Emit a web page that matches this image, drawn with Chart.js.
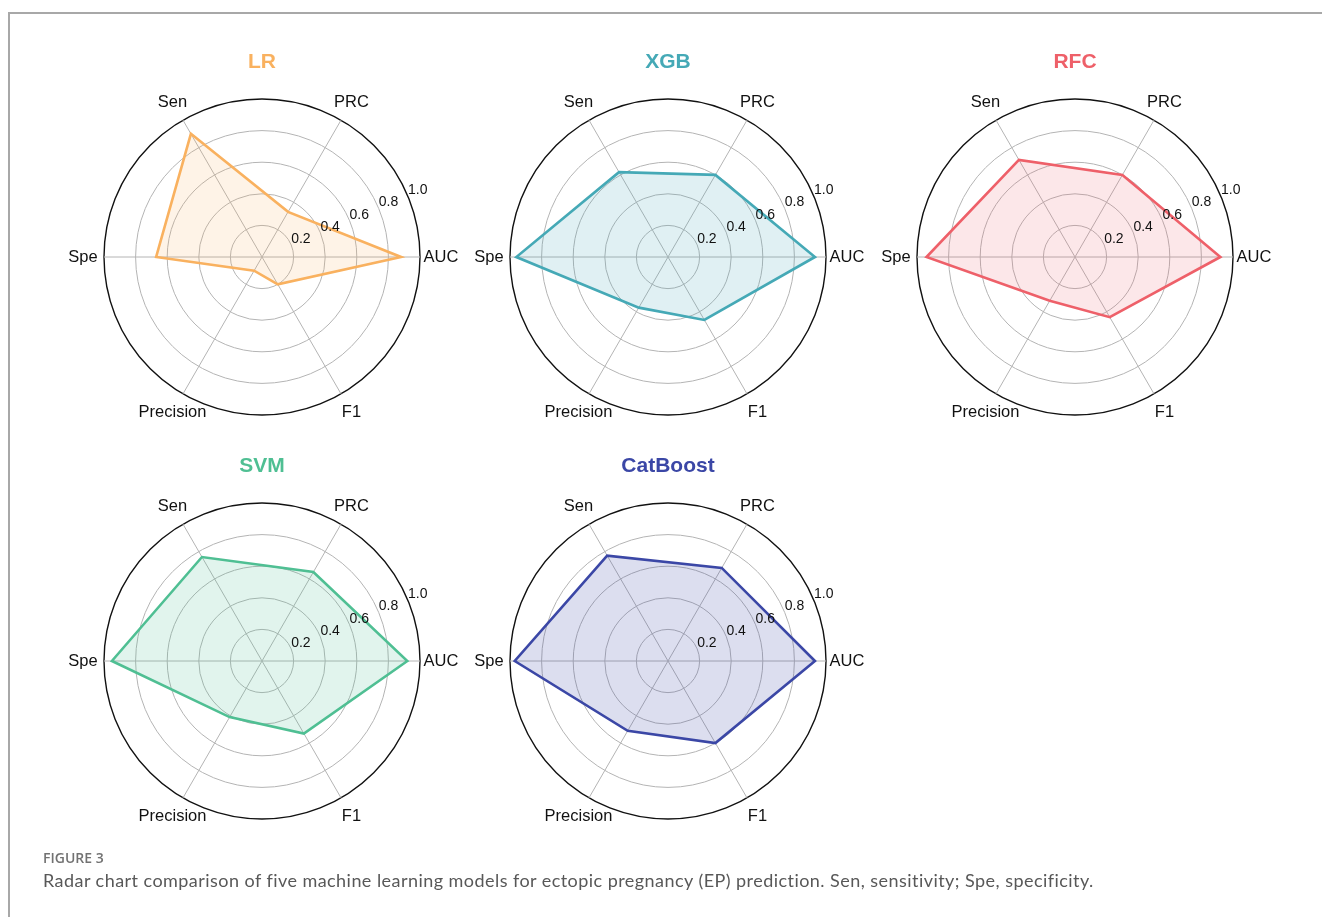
<!DOCTYPE html>
<html>
<head>
<meta charset="utf-8">
<script src="https://cdn.jsdelivr.net/npm/chart.js@4.4.1/dist/chart.umd.min.js"></script>
<style>
  body { margin: 0; background: #fff; width: 1322px; height: 917px; overflow: hidden; position: relative; }
  .frame { position: absolute; left: 8px; top: 12px; right: 0; bottom: 0; border-top: 2px solid #a8a8a8; border-left: 2px solid #a8a8a8; }
  canvas.radar { position: absolute; }
  .fig-no { position: absolute; left: 43px; top: 848px; font: 600 14px "Open Sans", sans-serif; line-height: normal; color: #727272; }
  .caption { position: absolute; left: 43px; top: 870px; font: 18px Lato, sans-serif; line-height: 1.2; letter-spacing: 0.45px; color: #585858; white-space: nowrap; }
</style>
</head>
<body>
<div class="frame"></div>
<canvas id="c-lr" class="radar" width="440" height="440" style="left:42px;top:37px"></canvas>
<canvas id="c-xgb" class="radar" width="440" height="440" style="left:448px;top:37px"></canvas>
<canvas id="c-rfc" class="radar" width="440" height="440" style="left:855px;top:37px"></canvas>
<canvas id="c-svm" class="radar" width="440" height="440" style="left:42px;top:441px"></canvas>
<canvas id="c-cat" class="radar" width="440" height="440" style="left:448px;top:441px"></canvas>
<div class="fig-no">FIGURE 3</div>
<div class="caption">Radar chart comparison of five machine learning models for ectopic pregnancy (EP) prediction. Sen, sensitivity; Spe, specificity.</div>

<script>
// metric order runs clockwise from the right-hand axis
const metrics = ['AUC', 'F1', 'Precision', 'Spe', 'Sen', 'PRC'];
const tickValues = [0.2, 0.4, 0.6, 0.8, 1.0];

const lrScores  = [0.88, 0.20, 0.10, 0.67, 0.90, 0.33];
const xgbScores = [0.93, 0.46, 0.37, 0.96, 0.62, 0.60];
const rfcScores = [0.92, 0.44, 0.32, 0.94, 0.71, 0.60];
const svmScores = [0.92, 0.53, 0.41, 0.95, 0.76, 0.65];
const catScores = [0.93, 0.60, 0.51, 0.97, 0.77, 0.68];

const FONT = '"Liberation Sans", Arial, sans-serif';

// axis names, radial tick values and the model title are drawn by hand
const radarText = {
    id: 'radarText',
    afterDraw(chart, args, opts) {
        const s = chart.scales.r;
        const ctx = chart.ctx;
        ctx.save();

        ctx.fillStyle = '#111';
        ctx.font = '16.5px ' + FONT;
        ctx.textAlign = 'center';
        ctx.textBaseline = 'middle';
        chart.data.labels.forEach((lab, i) => {
            const p = s.getPointPosition(i, s.drawingArea + 21);
            ctx.fillText(lab, p.x, p.y);
        });

        // r-axis labels sit along a ray 22.5 degrees above the AUC axis
        const a = 22.5 * Math.PI / 180;
        ctx.font = '14px ' + FONT;
        ctx.textAlign = 'left';
        ctx.textBaseline = 'bottom';
        tickValues.forEach(v => {
            const d = s.getDistanceFromCenterForValue(v);
            ctx.fillText(v.toFixed(1), s.xCenter + d * Math.cos(a), s.yCenter - d * Math.sin(a) + 1);
        });

        ctx.fillStyle = opts.color;
        ctx.font = 'bold 21px ' + FONT;
        ctx.textAlign = 'center';
        ctx.textBaseline = 'middle';
        ctx.fillText(opts.title, s.xCenter, s.yCenter - 195);
        ctx.restore();
    }
};

function makeRadar(id, title, scores, line, fill) {
    const ctx = document.getElementById(id).getContext('2d');
    return new Chart(ctx, {
        type: 'radar',
        data: {
            labels: metrics,
            datasets: [{
                label: title,
                data: scores,
                borderColor: line,
                backgroundColor: fill,
                borderWidth: 2.6,
                pointRadius: 0,
                fill: true,
                tension: 0
            }]
        },
        options: {
            responsive: false,
            animation: false,
            events: [],
            layout: { padding: 62 },
            plugins: {
                legend: { display: false },
                tooltip: { enabled: false },
                radarText: { title: title, color: line }
            },
            scales: {
                r: {
                    min: 0,
                    max: 1,
                    startAngle: 90,
                    ticks: { stepSize: 0.2, display: false },
                    pointLabels: { display: false },
                    grid: {
                        circular: true,
                        color: c => (c.tick && c.tick.value >= 1) ? '#111' : '#b4b4b4',
                        lineWidth: c => (c.tick && c.tick.value >= 1) ? 1.4 : 1
                    },
                    angleLines: { color: '#b4b4b4', lineWidth: 1 }
                }
            }
        },
        plugins: [radarText]
    });
}

makeRadar('c-lr', 'LR', lrScores, '#f9b15f', 'rgba(249, 177, 95, 0.15)');
makeRadar('c-xgb', 'XGB', xgbScores, '#45a9b6', 'rgba(69, 169, 182, 0.17)');
makeRadar('c-rfc', 'RFC', rfcScores, '#ee6069', 'rgba(238, 96, 105, 0.15)');
makeRadar('c-svm', 'SVM', svmScores, '#4fbf93', 'rgba(79, 191, 147, 0.17)');
makeRadar('c-cat', 'CatBoost', catScores, '#3b47a6', 'rgba(59, 71, 166, 0.18)');
</script>
</body>
</html>
